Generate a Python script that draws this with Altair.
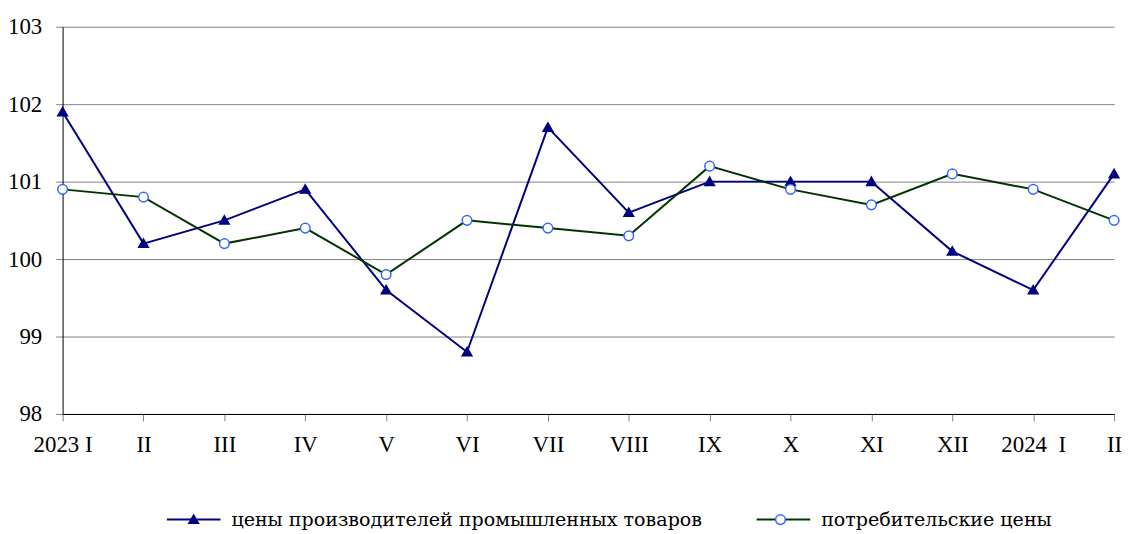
import altair as alt
import pandas as pd

months = ["2023 I", "II", "III", "IV", "V", "VI", "VII", "VIII", "IX", "X", "XI", "XII", "2024\u00a0\u00a0I", "II"]
producer = [101.9, 100.2, 100.5, 100.9, 99.6, 98.8, 101.7, 100.6, 101.0, 101.0, 101.0, 100.1, 99.6, 101.1]
consumer = [100.9, 100.8, 100.2, 100.4, 99.8, 100.5, 100.4, 100.3, 101.2, 100.9, 100.7, 101.1, 100.9, 100.5]
series_names = ["цены производителей промышленных товаров", "потребительские цены"]
marker_keys = ["a", "b"]
y_ticks = [98, 99, 100, 101, 102, 103]

rows = []
for i, v in enumerate(producer):
    rows.append({"idx": i, "series": series_names[0], "marker": marker_keys[0], "value": v})
for i, v in enumerate(consumer):
    rows.append({"idx": i, "series": series_names[1], "marker": marker_keys[1], "value": v})
df = pd.DataFrame(rows)

label_expr = "[" + ",".join("'" + m + "'" for m in months) + "][datum.value]"
marker_label_expr = "datum.value == 'a' ? '" + series_names[0] + "' : '" + series_names[1] + "'"

FONT = "Liberation Serif"
LFONT = "DejaVu Serif"
FS = 23
LFS = 19.2
NAVY = "#000080"
GREEN = "#003300"
BLUE = "#3366FF"

# marker shapes in unit coordinates, drawn with size 2916 (54 px unit span)
TRI = "M0,-0.17L0.18,0.14L-0.18,0.14Z"
CIRC = "M0.18,0A0.18,0.18,0,1,1,-0.18,0A0.18,0.18,0,1,1,0.18,0Z"
SYM = 2916

x = alt.X(
    "idx:O",
    scale=alt.Scale(type="point", padding=0),
    axis=alt.Axis(
        title=None, labelExpr=label_expr, labelAngle=0, domainColor="black",
        domainWidth=1, tickColor="#808080", tickSize=7, labelPadding=13,
        labelFontSize=FS, labelFont=FONT, labelColor="black", grid=False,
    ),
)
y = alt.Y(
    "value:Q",
    scale=alt.Scale(domain=[98, 103], nice=False, zero=False),
    axis=alt.Axis(
        title=None, values=y_ticks, format="d", domainColor="black",
        tickColor="#808080", tickSize=7, labelPadding=14, labelFontSize=FS,
        labelFont=FONT, labelColor="black", grid=True, gridColor="#808080",
        gridWidth=1,
    ),
)

legend_common = dict(
    orient="none", legendX=104, legendY=468, direction="horizontal",
    labelFont=LFONT, labelFontSize=LFS, labelColor="black", labelLimit=0,
    symbolSize=SYM, labelOffset=10, columnPadding=50,
    padding=0, title=None,
)

lines = alt.Chart(df).mark_line(strokeWidth=2).encode(
    x=x, y=y,
    color=alt.Color(
        "series:N",
        scale=alt.Scale(domain=series_names, range=[NAVY, GREEN]),
        legend=alt.Legend(symbolType="M-1,0H1", symbolStrokeWidth=2, **legend_common),
    ),
    detail="series:N",
)

marker_legend = alt.Legend(labelOpacity=0, labelExpr=marker_label_expr,
                           symbolStrokeWidth=1.5, **legend_common)

points = alt.Chart(df).mark_point(filled=True, size=SYM, strokeWidth=1.5, opacity=1).encode(
    x=x, y=y,
    shape=alt.Shape(
        "marker:N",
        scale=alt.Scale(domain=marker_keys, range=[TRI, CIRC]),
        legend=marker_legend,
    ),
    fill=alt.Fill(
        "marker:N",
        scale=alt.Scale(domain=marker_keys, range=[NAVY, "#FFFFFF"]),
        legend=marker_legend,
    ),
    stroke=alt.Stroke(
        "marker:N",
        scale=alt.Scale(domain=marker_keys, range=[NAVY, BLUE]),
        legend=marker_legend,
    ),
)

chart = (
    alt.layer(lines, points)
    .properties(
        width=1059, height=390,
        autosize=alt.AutoSizeParams(type="none"),
        padding={"left": 55, "top": 17, "right": 10, "bottom": 116},
        background="white",
    )
    .configure_view(stroke=None)
)

chart.save("out.html", embed_options={"renderer": "svg", "actions": False})
